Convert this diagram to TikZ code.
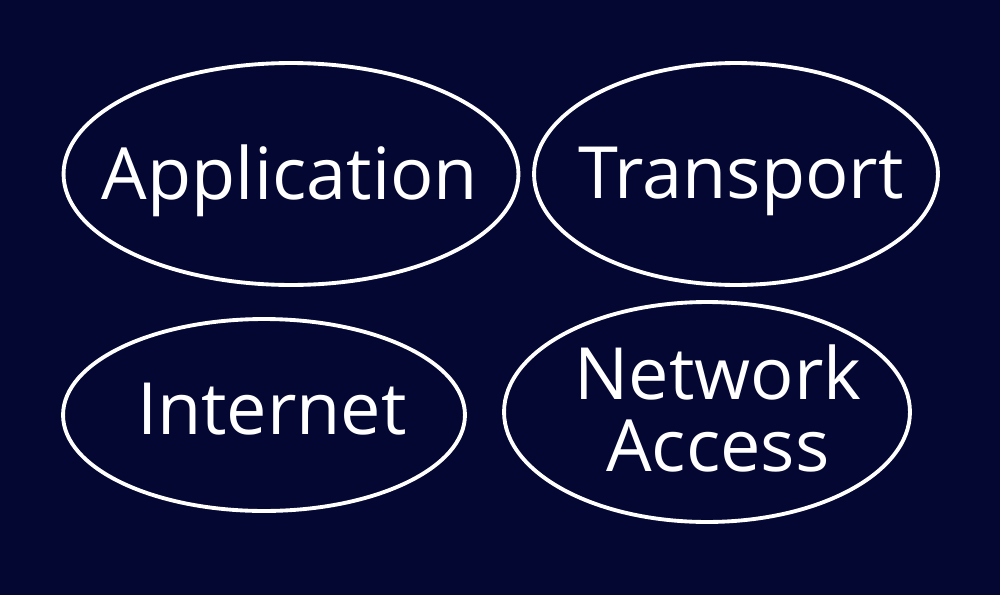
\documentclass[tikz,border=0pt]{standalone}
\usepackage{fontspec}
\usetikzlibrary{shapes.geometric}
\newfontfamily\handfont{Open Sans}
\definecolor{boardblue}{HTML}{050733}

\begin{document}
\begin{tikzpicture}
  [x=0.02cm,y=-0.02cm,
   layer/.style={ellipse,draw=white,line width=2.2pt,inner sep=0pt},
   word/.style={text=white,font=\handfont\fontsize{41}{41}\selectfont,align=center,inner sep=0pt}]
  \fill[boardblue] (0,0) rectangle (1000,595);

  \node[layer,minimum width=9.1cm,minimum height=4.44cm] (app) at (291,174) {};
  \node[layer,minimum width=8.08cm,minimum height=4.44cm] (tra) at (736,174) {};
  \node[layer,minimum width=8.04cm,minimum height=3.84cm] (int) at (264,415) {};
  \node[layer,minimum width=8.12cm,minimum height=4.4cm] (net) at (707,412) {};

  \node[word] (apptext) at (290,181) {Application};
  \node[word] (tratext) at (741,181) {Transport};
  \node[word] (inttext) at (272,409) {Internet};
  \node[word] (nettext) at (718,408) {Network\\Access};

\end{tikzpicture}
\end{document}
